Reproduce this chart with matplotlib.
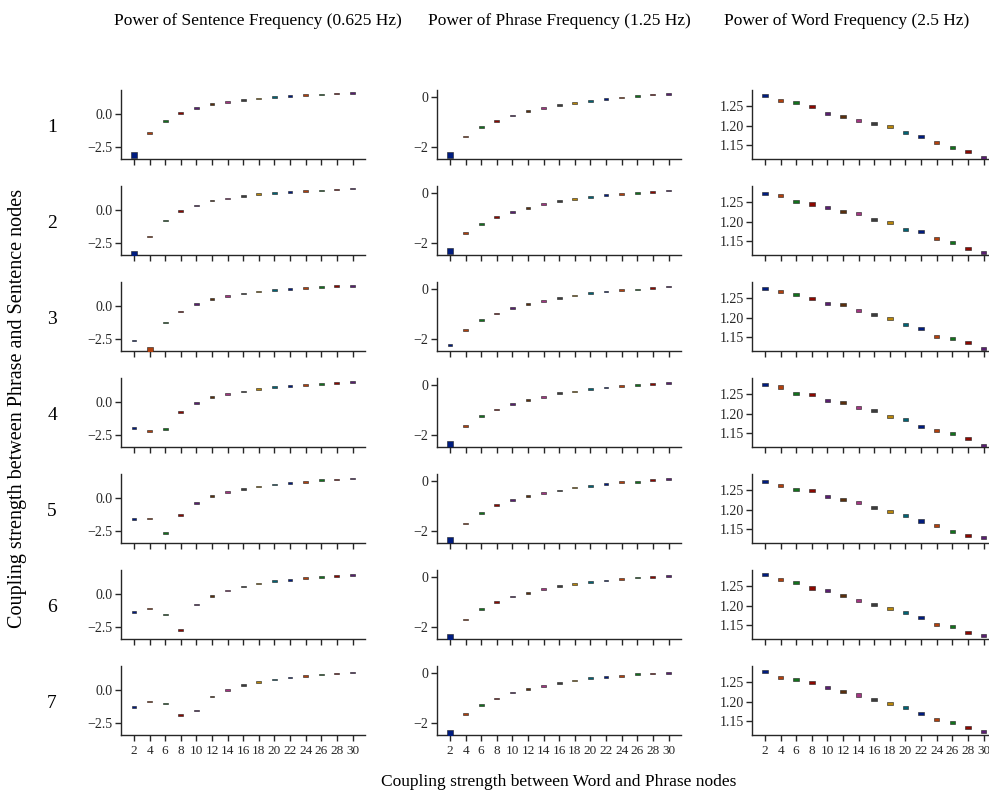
import numpy as np
import matplotlib.pyplot as plt
from matplotlib.path import Path

# coupling strength word-phrase (x categories)
couplings = [2, 4, 6, 8, 10, 12, 14, 16, 18, 20, 22, 24, 26, 28, 30]
rows = ['1', '2', '3', '4', '5', '6', '7']
titles = ['Power of Sentence Frequency (0.625 Hz)',
          'Power of Phrase Frequency (1.25 Hz)',
          'Power of Word Frequency (2.5 Hz)']

# power of sentence frequency, one list per phrase-sentence coupling
sentence = [
    [-3.12, -1.43, -0.53, 0.10, 0.50, 0.80, 0.97, 1.13, 1.23, 1.33, 1.40, 1.47, 1.53, 1.60, 1.63],
    [-3.40, -2.02, -0.79, -0.03, 0.38, 0.75, 0.92, 1.10, 1.27, 1.34, 1.44, 1.51, 1.54, 1.61, 1.68],
    [-2.64, -3.40, -1.25, -0.41, 0.20, 0.54, 0.81, 0.98, 1.15, 1.25, 1.35, 1.42, 1.49, 1.55, 1.59],
    [-1.99, -2.20, -2.06, -0.74, -0.07, 0.41, 0.64, 0.84, 1.01, 1.18, 1.28, 1.35, 1.42, 1.49, 1.55],
    [-1.62, -1.55, -2.70, -1.28, -0.34, 0.17, 0.51, 0.71, 0.91, 1.08, 1.18, 1.28, 1.39, 1.45, 1.52],
    [-1.39, -1.11, -1.55, -2.74, -0.78, -0.14, 0.30, 0.61, 0.84, 1.01, 1.11, 1.25, 1.32, 1.42, 1.49],
    [-1.27, -0.87, -1.03, -1.90, -1.57, -0.47, 0.03, 0.40, 0.63, 0.83, 1.00, 1.13, 1.23, 1.30, 1.37],
]
phrase = [
    [-2.34, -1.58, -1.20, -0.95, -0.73, -0.56, -0.42, -0.31, -0.22, -0.14, -0.07, 0.00, 0.05, 0.12, 0.15],
    [-2.34, -1.61, -1.24, -0.95, -0.75, -0.59, -0.42, -0.32, -0.22, -0.15, -0.07, -0.02, 0.02, 0.07, 0.12],
    [-2.25, -1.66, -1.25, -0.98, -0.75, -0.59, -0.46, -0.34, -0.25, -0.15, -0.08, -0.03, 0.00, 0.05, 0.12],
    [-2.37, -1.66, -1.25, -0.98, -0.75, -0.58, -0.46, -0.32, -0.25, -0.15, -0.08, -0.03, 0.02, 0.07, 0.10],
    [-2.37, -1.71, -1.29, -0.97, -0.76, -0.59, -0.46, -0.37, -0.25, -0.19, -0.10, -0.03, -0.02, 0.05, 0.10],
    [-2.41, -1.71, -1.29, -1.00, -0.78, -0.63, -0.47, -0.36, -0.27, -0.19, -0.12, -0.07, 0.00, 0.02, 0.07],
    [-2.42, -1.66, -1.27, -1.02, -0.78, -0.64, -0.51, -0.39, -0.29, -0.20, -0.14, -0.10, -0.03, 0.00, 0.03],
]
word = [
    [1.276, 1.264, 1.258, 1.248, 1.232, 1.224, 1.213, 1.206, 1.197, 1.182, 1.172, 1.158, 1.144, 1.135, 1.119],
    [1.272, 1.266, 1.252, 1.245, 1.237, 1.227, 1.221, 1.205, 1.197, 1.180, 1.174, 1.156, 1.146, 1.131, 1.121],
    [1.274, 1.267, 1.258, 1.250, 1.235, 1.233, 1.218, 1.207, 1.197, 1.183, 1.173, 1.153, 1.147, 1.136, 1.120],
    [1.275, 1.268, 1.251, 1.250, 1.234, 1.229, 1.216, 1.209, 1.192, 1.184, 1.168, 1.156, 1.150, 1.136, 1.119],
    [1.273, 1.262, 1.252, 1.250, 1.233, 1.226, 1.218, 1.205, 1.196, 1.186, 1.171, 1.159, 1.144, 1.133, 1.129],
    [1.279, 1.266, 1.258, 1.245, 1.238, 1.225, 1.214, 1.204, 1.193, 1.182, 1.170, 1.152, 1.146, 1.132, 1.123],
    [1.278, 1.262, 1.256, 1.250, 1.235, 1.227, 1.217, 1.206, 1.196, 1.185, 1.170, 1.154, 1.146, 1.134, 1.123],
]
# points with a wider spread between runs (row, col, index)
wide = [(0, 0, 0), (1, 0, 0), (2, 0, 1), (0, 1, 0), (1, 1, 0), (3, 1, 0),
        (4, 1, 0), (5, 1, 0), (6, 1, 0)]

columns = [sentence, phrase, word]
ylims = [(-3.48, 1.88), (-2.51, 0.30), (1.114, 1.291)]
yticks = [[-2.5, 0.0], [-2, 0], [1.15, 1.20, 1.25]]
yfmt = ['{:.1f}', '{:.0f}', '{:.2f}']

dark = ['#001C7F', '#B1400D', '#12711C', '#8C0800', '#591E71',
        '#592F0D', '#A23582', '#3C3C3C', '#B8850A', '#006374']
flat = Path([(-1, -0.35), (1, -0.35), (1, 0.35), (-1, 0.35), (-1, -0.35)],
            [1, 2, 2, 2, 79])
thick = Path([(-1, -0.55), (1, -0.55), (1, 0.55), (-1, 0.55), (-1, -0.55)],
             [1, 2, 2, 2, 79])
box = Path([(-1, -0.8), (1, -0.8), (1, 0.8), (-1, 0.8), (-1, -0.8)],
           [1, 2, 2, 2, 79])

plt.rcParams['font.family'] = ['Liberation Serif', 'DejaVu Serif']
plt.rcParams['axes.edgecolor'] = '#262626'
plt.rcParams['xtick.color'] = '#262626'
plt.rcParams['ytick.color'] = '#262626'

W, H = 989, 792
fig = plt.figure(figsize=(W / 100, H / 100), dpi=100)
lefts = [121, 437, 752]
aw = 244
ah = 69.3
x = np.arange(len(couplings))

for r in range(len(rows)):
    top = 90 + 96 * r
    for c in range(3):
        ax = fig.add_axes([lefts[c] / W, 1 - (top + ah) / H, aw / W, ah / H])
        vals = columns[c][r]
        cols = [dark[i % len(dark)] for i in range(len(vals))]
        normal = [i for i in range(len(vals)) if (r, c, i) not in wide]
        big = [i for i in range(len(vals)) if (r, c, i) in wide]
        ax.scatter(x[normal], [vals[i] for i in normal], marker=thick if c == 2 else flat,
                   s=16 if c == 2 else 12, c=[cols[i] for i in normal],
                   edgecolors='#1e1e1e', linewidths=0.4, zorder=3)
        if big:
            ax.scatter(x[big], [vals[i] for i in big], marker=box, s=22,
                       c=[cols[i] for i in big], edgecolors='#1e1e1e',
                       linewidths=0.4, zorder=3)
        ax.set_xlim(-0.83, 14.8)
        ax.set_ylim(*ylims[c])
        ax.set_yticks(yticks[c])
        ax.set_yticklabels([yfmt[c].format(v).replace('-', '\u2212') for v in yticks[c]])
        ax.set_xticks(x)
        if r == len(rows) - 1:
            ax.set_xticklabels([str(v) for v in couplings])
        else:
            ax.set_xticklabels([])
        ax.tick_params(axis='y', labelsize=10, length=4, width=1, pad=2)
        ax.tick_params(axis='x', labelsize=9.5, length=4, width=1, pad=3)
        for s in ['top', 'right']:
            ax.spines[s].set_visible(False)
        for s in ['left', 'bottom']:
            ax.spines[s].set_linewidth(1)
    fig.text(52 / W, 1 - (top + 37) / H, rows[r], fontsize=14, ha='center', va='center')

tx = [258, 559, 847]
for c in range(3):
    fig.text(tx[c] / W, 1 - 21 / H, titles[c], fontsize=12.5, ha='center', va='center')

fig.text(18 / W, 1 - 408 / H, 'Coupling strength between Phrase and Sentence nodes',
         rotation=90, fontsize=14.5, ha='center', va='center')
fig.text(559 / W, 1 - 782 / H, 'Coupling strength between Word and Phrase nodes',
         fontsize=12.5, ha='center', va='center')

fig.savefig('out.png', dpi=100)
